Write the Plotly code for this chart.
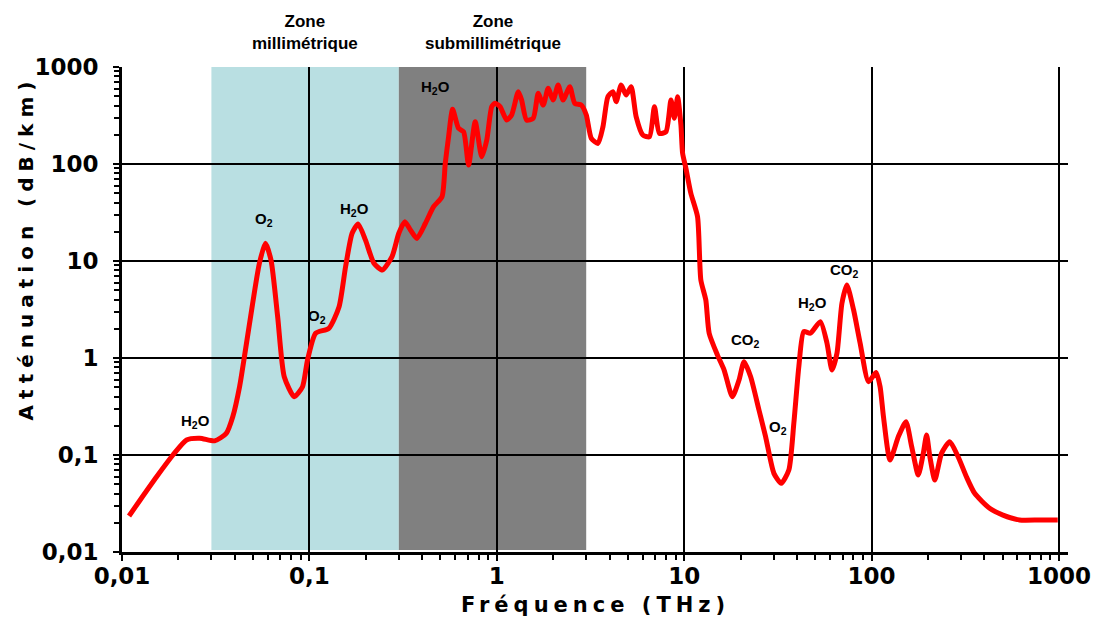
import plotly.graph_objects as go
import math

# Atmospheric attenuation vs frequency (log-log)
freq_thz = [
    0.0109, 0.0125, 0.0153, 0.0187, 0.0221, 0.0260, 0.0312, 0.0360, 0.0390, 0.0424,
    0.0450, 0.0498, 0.0541, 0.0582, 0.0624, 0.0677, 0.0734, 0.0830, 0.0919, 0.0977,
    0.108, 0.127, 0.144, 0.156, 0.169, 0.182, 0.199, 0.221, 0.245, 0.276,
    0.300, 0.323, 0.346, 0.375, 0.416, 0.460, 0.510, 0.531, 0.553, 0.581,
    0.625, 0.665, 0.707, 0.767, 0.831, 0.884, 0.940, 0.979, 1.041, 1.129,
    1.200, 1.302, 1.356, 1.442, 1.565, 1.663, 1.769, 1.880, 1.999, 2.125,
    2.259, 2.452, 2.607, 2.826, 3.004, 3.193, 3.467, 3.686, 3.918, 4.165,
    4.336, 4.609, 4.900, 5.210, 5.539, 6.012, 6.525, 6.937, 7.374, 7.993,
    8.499, 8.860, 9.225, 9.605, 9.806, 10.21, 10.85, 11.78, 12.27, 13.04,
    13.59, 15.05, 16.33, 18.08, 19.62, 20.86, 22.62, 25.06, 27.18, 30.11,
    32.93, 36.17, 38.46, 40.89, 43.46, 47.12, 53.25, 57.81, 61.44, 65.33,
    69.44, 73.82, 80.14, 86.86, 96.27, 105.7, 111.0, 115.7, 125.4, 139.0,
    152.5, 163.6, 177.5, 188.7, 196.5, 204.6, 217.5, 236.1, 261.3, 289.5,
    320.5, 354.7, 426.3, 502.2, 615.3, 785.9, 984.3,
]
atten_db_km = [
    0.0235, 0.0344, 0.0597, 0.100, 0.143, 0.149, 0.140, 0.167, 0.248, 0.506,
    1.03, 3.66, 9.47, 15.2, 10.2, 2.67, 0.641, 0.399, 0.506, 0.953,
    1.80, 2.02, 3.38, 8.74, 19.3, 24.1, 16.5, 9.47, 8.08, 11.1,
    19.3, 25.4, 20.9, 17.1, 24.5, 36.3, 46.0, 102, 191, 366,
    233, 215, 97.7, 273, 119, 177, 390, 422, 390, 284,
    320, 556, 457, 284, 296, 536, 405, 603, 457, 652,
    457, 627, 422, 405, 320, 184, 163, 243, 494, 556,
    439, 652, 514, 627, 308, 199, 191, 390, 207, 215,
    457, 296, 494, 252, 129, 90.4, 49.9, 28.6, 6.37, 3.96,
    1.80, 1.07, 0.752, 0.399, 0.593, 0.916, 0.641, 0.291, 0.155, 0.0647,
    0.0511, 0.0700, 0.212, 0.813, 1.87, 1.80, 2.37, 1.42, 0.752, 1.12,
    3.66, 5.66, 3.13, 1.42, 0.570, 0.710, 0.506, 0.248, 0.0888, 0.155,
    0.220, 0.122, 0.0622, 0.104, 0.161, 0.0959, 0.0552, 0.104, 0.137, 0.0959,
    0.0597, 0.0403, 0.0282, 0.0240, 0.0214, 0.0214, 0.0214,
]

tick_vals = [0.01, 0.1, 1, 10, 100, 1000]
x_tick_text = ["0,01", "0,1", "1", "10", "100", "1000"]
y_tick_text = ["0,01", "0,1", "1", "10", "100", "1000"]

# Molecule labels: (text, frequency THz, attenuation dB/km)
peak_labels = [
    ("H<sub>2</sub>O", 0.0247, 0.219),
    ("O<sub>2</sub>", 0.0575, 26.5),
    ("O<sub>2</sub>", 0.110, 2.71),
    ("H<sub>2</sub>O", 0.173, 33.6),
    ("H<sub>2</sub>O", 0.472, 622),
    ("CO<sub>2</sub>", 21.2, 1.53),
    ("O<sub>2</sub>", 31.7, 0.190),
    ("H<sub>2</sub>O", 48.1, 3.69),
    ("CO<sub>2</sub>", 72.1, 8.07),
]

zones = [
    ("Zone<br>millimétrique", 0.03, 0.3, "#B9DFE2"),
    ("Zone<br>submillimétrique", 0.3, 3.0, "#808080"),
]

BLACK = "#000000"
TICK_FONT = dict(family="DejaVu Sans", size=23, color=BLACK, weight="bold")


def spaced(text, px):
    return f'<span style="letter-spacing:{px}px">{text}</span>'


fig = go.Figure()

fig.add_trace(go.Scatter(
    x=freq_thz, y=atten_db_km, mode="lines",
    line=dict(color="#FF0000", width=5, shape="spline", smoothing=0.6),
    hoverinfo="x+y", showlegend=False,
))

for label, x0, x1, color in zones:
    fig.add_shape(type="rect", xref="x", yref="y", x0=x0, x1=x1, y0=0.0105, y1=1000,
                  fillcolor=color, line=dict(width=0), layer="below")
    xc = math.log10(math.sqrt(x0 * x1))
    fig.add_annotation(x=xc, xref="x", y=1.072, yref="paper", text=f"<b>{label}</b>",
                       showarrow=False, xanchor="center", yanchor="middle",
                       font=dict(family="Liberation Sans", size=17, color=BLACK))

for text, fx, ay in peak_labels:
    fig.add_annotation(x=math.log10(fx), y=math.log10(ay), xref="x", yref="y",
                       text=f"<b>{text}</b>", showarrow=False,
                       font=dict(family="Liberation Sans", size=15, color=BLACK))

# Axis titles
fig.add_annotation(x=0.5, y=-0.11, xref="paper", yref="paper",
                   text=spaced("<b>Fréquence (THz)</b>", 5), showarrow=False,
                   xanchor="center", yanchor="middle",
                   font=dict(family="DejaVu Sans", size=21, color=BLACK))
fig.add_annotation(x=-0.102, y=0.627, xref="paper", yref="paper",
                   text=spaced("<b>Atténuation (dB/km)</b>", 6), showarrow=False,
                   textangle=-90, xanchor="center", yanchor="middle",
                   font=dict(family="DejaVu Sans", size=20, color=BLACK))

minor_vals = [m * 10 ** e for e in range(-2, 3) for m in range(2, 10)]

axis_common = dict(
    type="log", showline=True, linecolor=BLACK, linewidth=3,
    showgrid=True, gridcolor=BLACK, gridwidth=2, zeroline=False,
    ticks="outside", ticklen=6, tickwidth=2, tickcolor=BLACK,
    tickmode="array", tickvals=tick_vals, tickfont=TICK_FONT,
    minor=dict(tickmode="array", tickvals=minor_vals, ticks="outside",
               ticklen=5, tickwidth=2, tickcolor=BLACK, showgrid=False),
)

fig.update_xaxes(**axis_common, ticktext=x_tick_text, range=[-2, 3.048],
                 ticklabelstandoff=-5)
fig.update_yaxes(**axis_common, ticktext=y_tick_text, range=[-2, 3], ticklabelstandoff=10)

fig.update_layout(
    width=1103, height=617,
    margin=dict(l=122, r=31, t=67, b=65),
    paper_bgcolor="white", plot_bgcolor="white",
    font=dict(family="Liberation Sans", color=BLACK),
)

fig.write_html("out.html")
